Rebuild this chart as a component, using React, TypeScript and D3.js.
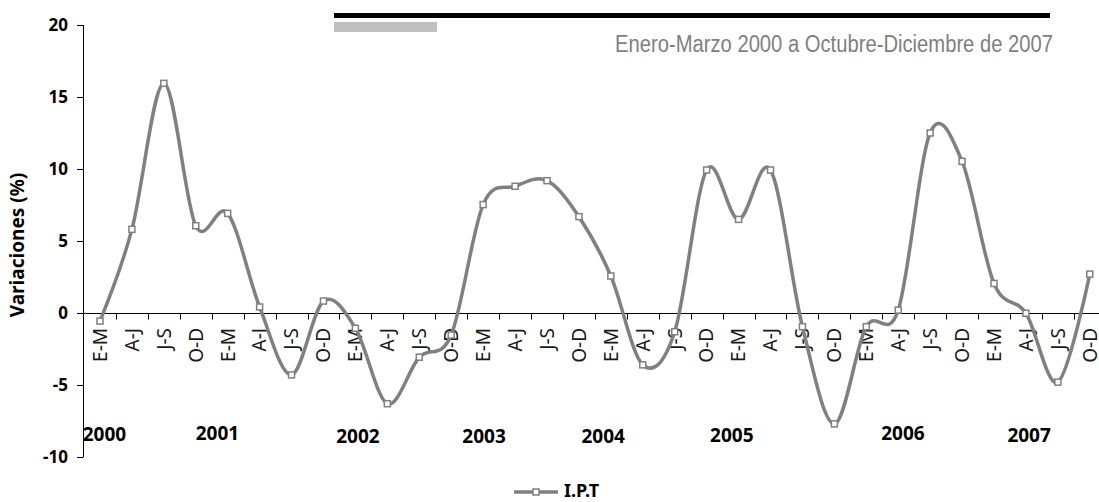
import { useEffect, useRef } from 'react';
import * as d3 from 'd3';

// I.P.T, variación trimestral (%) - Enero-Marzo 2000 a Octubre-Diciembre 2007
const years = ['2000', '2001', '2002', '2003', '2004', '2005', '2006', '2007'];
const quarters = ['E-M', 'A-J', 'J-S', 'O-D'];
const ipt = [
  -0.56, 5.81, 15.95, 6.06,
  6.92, 0.42, -4.3, 0.83,
  -1.06, -6.3, -3.07, -1.53,
  7.53, 8.8, 9.19, 6.69,
  2.57, -3.6, -1.3, 9.93,
  6.5, 9.93, -0.95, -7.7,
  -0.95, 0.2, 12.5, 10.53,
  2.05, -0.02, -4.8, 2.7,
];
const yTicks = [-10, -5, 0, 5, 10, 15, 20];
const seriesName = 'I.P.T';
const yTitle = 'Variaciones (%)';
const subtitle = 'Enero-Marzo 2000 a Octubre-Diciembre de 2007';

// where the year captions sit (in category slots) and their baselines
const yearSlot = [0.64, 4.18, 8.58, 12.53, 16.26, 20.29, 25.65, 29.6];
const yearBaseline = [441, 440, 443, 443, 443, 442, 440, 442];

const W = 1099;
const H = 502;
const FONT = "'Noto Sans', 'DejaVu Sans', sans-serif";
const GREY = '#808080';

function IptChart() {
  const svgRef = useRef<SVGSVGElement>(null);

  useEffect(() => {
    const svg = d3.select(svgRef.current);
    svg.selectAll('*').remove();

    const labels = years.flatMap(() => quarters);
    const idx = d3.range(ipt.length);
    const step = 31.93;
    const x = d3.scaleBand<number>().domain(idx).range([84, 84 + step * idx.length]).padding(0);
    const y = d3.scaleLinear().domain([-10, 20]).range([457, 25]);
    const cx = (i: number) => (x(i) as number) + x.bandwidth() / 2;
    const slotX = (s: number) => 84 + s * x.bandwidth();
    const y0 = Math.round(y(0)) + 0.5;

    // header bars and period text (condensed look via textLength)
    svg.append('rect').attr('x', 334).attr('y', 13).attr('width', 716).attr('height', 5).attr('fill', '#000');
    svg.append('rect').attr('x', 334).attr('y', 22).attr('width', 103).attr('height', 10).attr('fill', '#c0c0c0');
    svg
      .append('text')
      .text(subtitle)
      .attr('x', 615)
      .attr('y', 52)
      .attr('textLength', 438)
      .attr('lengthAdjust', 'spacingAndGlyphs')
      .style('font-family', "'Liberation Sans', Arial, sans-serif")
      .style('font-size', '23px')
      .style('fill', GREY);

    // y axis
    const ax = svg.append('g').attr('stroke', '#000').attr('stroke-width', 1);
    ax.append('line').attr('x1', 83.5).attr('x2', 83.5).attr('y1', y(20)).attr('y2', y(-10));
    ax
      .selectAll('.yt')
      .data(yTicks)
      .enter()
      .append('line')
      .attr('x1', 77)
      .attr('x2', 83.5)
      .attr('y1', d => Math.round(y(d)) + 0.5)
      .attr('y2', d => Math.round(y(d)) + 0.5);

    svg
      .selectAll('.ylab')
      .data(yTicks)
      .enter()
      .append('text')
      .text(d => d)
      .attr('x', 68)
      .attr('y', d => y(d))
      .attr('dy', '0.36em')
      .attr('text-anchor', 'end')
      .style('font-family', FONT)
      .style('font-size', '17px')
      .style('font-weight', 700);

    svg
      .append('text')
      .text(yTitle)
      .attr('transform', `translate(24,245) rotate(-90)`)
      .attr('text-anchor', 'middle')
      .style('font-family', FONT)
      .style('font-size', '19px')
      .style('font-weight', 700);

    // x axis at zero
    ax.append('line').attr('x1', 83).attr('x2', W).attr('y1', y0).attr('y2', y0);
    ax
      .selectAll('.xt')
      .data(d3.range(1, idx.length + 1))
      .enter()
      .append('line')
      .attr('x1', d => Math.round(84 + d * x.bandwidth()) + 0.5)
      .attr('x2', d => Math.round(84 + d * x.bandwidth()) + 0.5)
      .attr('y1', y0)
      .attr('y2', y0 + 6);

    svg
      .selectAll('.xlab')
      .data(labels)
      .enter()
      .append('text')
      .text(d => d)
      .attr('transform', (d, i) => `translate(${cx(i)},328) rotate(-90)`)
      .attr('dy', '0.36em')
      .attr('text-anchor', 'end')
      .style('font-family', FONT)
      .style('font-size', '19px')
      .style('fill', '#1a1a1a');

    svg
      .selectAll('.year')
      .data(years)
      .enter()
      .append('text')
      .text(d => d)
      .attr('x', (d, i) => slotX(yearSlot[i]))
      .attr('y', (d, i) => yearBaseline[i])
      .attr('text-anchor', 'middle')
      .style('font-family', FONT)
      .style('font-size', '19px')
      .style('font-weight', 700);

    // series
    const line = d3
      .line<number>()
      .x((d, i) => cx(i))
      .y(d => y(d))
      .curve(d3.curveCardinal.tension(0));

    svg
      .append('path')
      .datum(ipt)
      .attr('d', line)
      .attr('fill', 'none')
      .attr('stroke', GREY)
      .attr('stroke-width', 3.5)
      .attr('stroke-linejoin', 'round');

    svg
      .selectAll('.mk')
      .data(ipt)
      .enter()
      .append('rect')
      .attr('x', (d, i) => cx(i) - 3)
      .attr('y', d => y(d) - 3)
      .attr('width', 6)
      .attr('height', 6)
      .attr('fill', '#fff')
      .attr('stroke', GREY)
      .attr('stroke-width', 1.5);

    // legend
    const lg = svg.append('g');
    lg.append('line').attr('x1', 514).attr('x2', 558).attr('y1', 492).attr('y2', 492).attr('stroke', GREY).attr('stroke-width', 3.5);
    lg.append('rect').attr('x', 533).attr('y', 489).attr('width', 6).attr('height', 6).attr('fill', '#fff').attr('stroke', GREY).attr('stroke-width', 1.5);
    lg
      .append('text')
      .text(seriesName)
      .attr('x', 564)
      .attr('y', 497)
      .style('font-family', FONT)
      .style('font-size', '18px')
      .style('font-weight', 700);
  }, []);

  return (
    <svg
      ref={svgRef}
      width={W}
      height={H}
      style={{ position: 'absolute', left: 0, top: 0, display: 'block', background: '#fff' }}
    />
  );
}

export default function App() {
  return <IptChart />;
}
